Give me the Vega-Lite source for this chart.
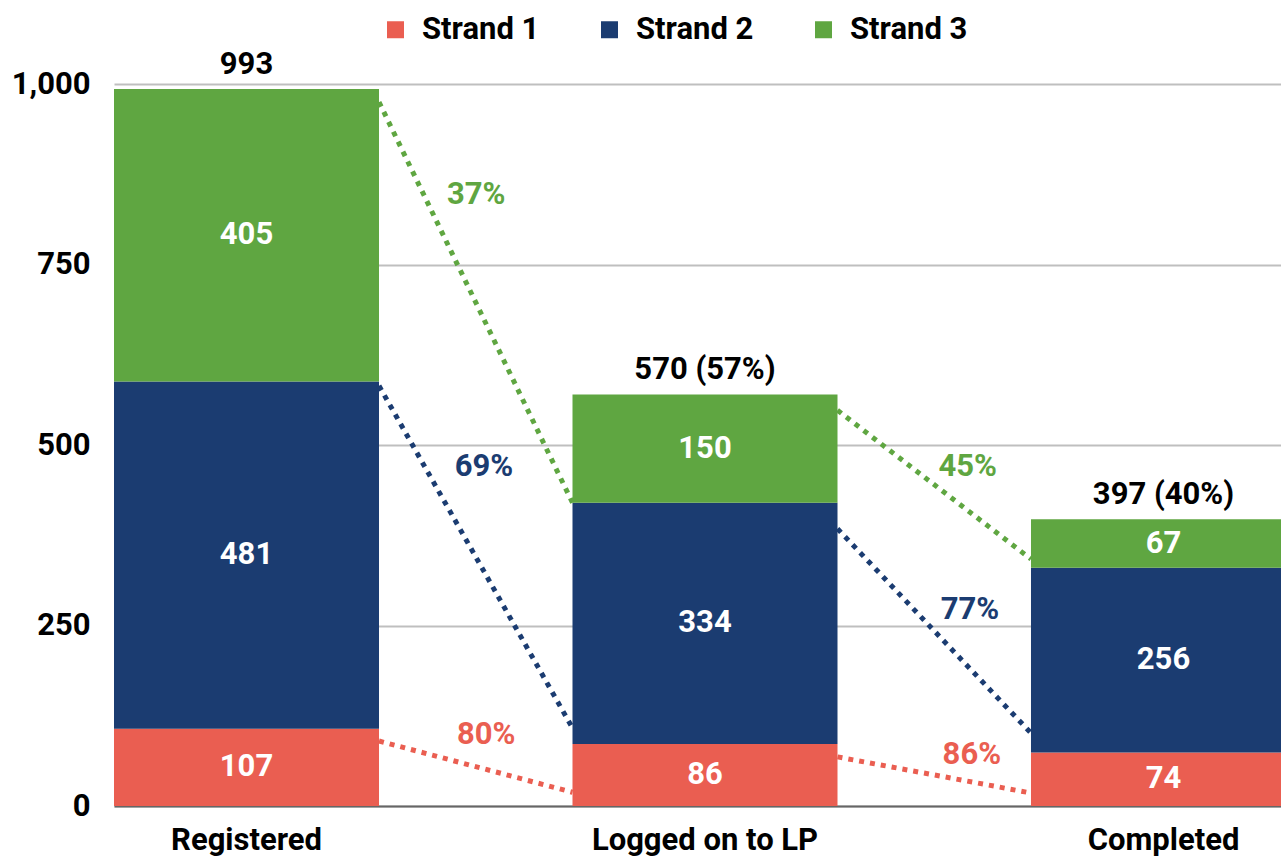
{
  "$schema": "https://vega.github.io/schema/vega-lite/v6.json",
  "width": 1167,
  "height": 722,
  "autosize": {"type": "none"},
  "padding": {"left": 114, "top": 84, "right": 0, "bottom": 50},
  "background": "white",
  "config": {
    "font": "Roboto",
    "view": {"stroke": null},
    "text": {"font": "Roboto", "fontWeight": "bold", "fontSize": 31},
    "axisY": {
      "labelExpr": "format(datum.value, ',d')",
      "ticks": false, "domain": false,
      "labelFont": "Roboto", "labelFontSize": 31, "labelFontWeight": "bold",
      "labelColor": "#000000", "labelPadding": 24,
      "grid": true, "gridColor": "#BFBFBF", "gridWidth": 2
    }
  },
  "datasets": {
    "bars": [
      {"stage": "Registered", "series": "Strand 1", "value": 107},
      {"stage": "Registered", "series": "Strand 2", "value": 481},
      {"stage": "Registered", "series": "Strand 3", "value": 405},
      {"stage": "Logged on to LP", "series": "Strand 1", "value": 86},
      {"stage": "Logged on to LP", "series": "Strand 2", "value": 334},
      {"stage": "Logged on to LP", "series": "Strand 3", "value": 150},
      {"stage": "Completed", "series": "Strand 1", "value": 74},
      {"stage": "Completed", "series": "Strand 2", "value": 256},
      {"stage": "Completed", "series": "Strand 3", "value": 67}
    ],
    "totals": [
      {"stage": "Registered", "total": 993, "label": "993"},
      {"stage": "Logged on to LP", "total": 570, "label": "570 (57%)"},
      {"stage": "Completed", "total": 397, "label": "397 (40%)"}
    ],
    "links": [
      {"seg": "a3", "series": "Strand 3", "pos": 0.578, "v": 975},
      {"seg": "a3", "series": "Strand 3", "pos": 1.0, "v": 420},
      {"seg": "a2", "series": "Strand 2", "pos": 0.578, "v": 582},
      {"seg": "a2", "series": "Strand 2", "pos": 1.0, "v": 108},
      {"seg": "a1", "series": "Strand 1", "pos": 0.578, "v": 90},
      {"seg": "a1", "series": "Strand 1", "pos": 1.0, "v": 19},
      {"seg": "b3", "series": "Strand 3", "pos": 1.578, "v": 548},
      {"seg": "b3", "series": "Strand 3", "pos": 2.0, "v": 342},
      {"seg": "b2", "series": "Strand 2", "pos": 1.578, "v": 384},
      {"seg": "b2", "series": "Strand 2", "pos": 2.0, "v": 101},
      {"seg": "b1", "series": "Strand 1", "pos": 1.578, "v": 68},
      {"seg": "b1", "series": "Strand 1", "pos": 2.0, "v": 18}
    ],
    "pct": [
      {"series": "Strand 3", "pos": 0.79, "v": 846, "label": "37%"},
      {"series": "Strand 2", "pos": 0.807, "v": 470, "label": "69%"},
      {"series": "Strand 1", "pos": 0.812, "v": 98, "label": "80%"},
      {"series": "Strand 3", "pos": 1.862, "v": 470, "label": "45%"},
      {"series": "Strand 2", "pos": 1.867, "v": 271, "label": "77%"},
      {"series": "Strand 1", "pos": 1.871, "v": 71, "label": "86%"}
    ]
  },
  "resolve": {"scale": {"x": "independent"}},
  "layer": [
    {
      "data": {"name": "bars"},
      "mark": {"type": "bar", "clip": true},
      "encoding": {
        "x": {
          "field": "stage", "type": "nominal",
          "sort": ["Registered", "Logged on to LP", "Completed"],
          "scale": {"type": "band", "range": [0, 1182], "paddingInner": 0.422, "paddingOuter": 0},
          "axis": {
            "title": null, "labelAngle": 0, "ticks": false,
            "domainColor": "#666666", "domainWidth": 2,
            "labelFont": "Roboto", "labelFontSize": 31, "labelFontWeight": "bold",
            "labelColor": "#000000", "labelPadding": 19, "labelLimit": 500, "grid": false
          }
        },
        "y": {
          "field": "value", "type": "quantitative", "stack": "zero",
          "scale": {"domain": [0, 1000], "nice": false},
          "axis": {"title": null, "values": [0, 250, 500, 750, 1000]}
        },
        "color": {
          "field": "series", "type": "nominal",
          "scale": {"domain": ["Strand 1", "Strand 2", "Strand 3"], "range": ["#EA5E51", "#1B3C71", "#5FA641"]},
          "legend": {
            "title": null, "orient": "none", "direction": "horizontal",
            "legendX": 266, "legendY": -70,
            "symbolType": "square", "symbolSize": 289, "symbolStrokeWidth": 0,
            "labelFont": "Roboto", "labelFontSize": 31, "labelFontWeight": "bold",
            "labelColor": "#000000", "labelOffset": 11, "columnPadding": 54, "labelLimit": 0
          }
        },
        "order": {"field": "series", "sort": "ascending"}
      }
    },
    {
      "data": {"name": "bars"},
      "transform": [
        {"stack": "value", "groupby": ["stage"], "sort": [{"field": "series", "order": "ascending"}], "as": ["v0", "v1"]},
        {"calculate": "(datum.v0 + datum.v1) / 2", "as": "mid"}
      ],
      "mark": {"type": "text", "color": "white", "baseline": "middle"},
      "encoding": {
        "x": {
          "field": "stage", "type": "nominal",
          "sort": ["Registered", "Logged on to LP", "Completed"],
          "scale": {"type": "band", "range": [0, 1182], "paddingInner": 0.422, "paddingOuter": 0},
          "axis": null
        },
        "y": {"field": "mid", "type": "quantitative", "axis": {"title": null, "values": [0, 250, 500, 750, 1000]}},
        "text": {"field": "value", "type": "quantitative"}
      }
    },
    {
      "data": {"name": "totals"},
      "mark": {"type": "text", "color": "black", "baseline": "middle", "dy": -24},
      "encoding": {
        "x": {
          "field": "stage", "type": "nominal",
          "sort": ["Registered", "Logged on to LP", "Completed"],
          "scale": {"type": "band", "range": [0, 1182], "paddingInner": 0.422, "paddingOuter": 0},
          "axis": null
        },
        "y": {"field": "total", "type": "quantitative", "axis": {"title": null, "values": [0, 250, 500, 750, 1000]}},
        "text": {"field": "label", "type": "nominal"}
      }
    },
    {
      "data": {"name": "links"},
      "mark": {"type": "line", "strokeWidth": 5, "strokeDash": [5, 6], "strokeCap": "butt"},
      "encoding": {
        "x": {"field": "pos", "type": "quantitative", "scale": {"domain": [0, 2.578], "range": [0, 1182], "nice": false, "zero": false}, "axis": null},
        "y": {"field": "v", "type": "quantitative", "axis": {"title": null, "values": [0, 250, 500, 750, 1000]}},
        "detail": {"field": "seg", "type": "nominal"},
        "color": {"field": "series", "type": "nominal"}
      }
    },
    {
      "data": {"name": "pct"},
      "mark": {"type": "text", "baseline": "middle"},
      "encoding": {
        "x": {"field": "pos", "type": "quantitative", "scale": {"domain": [0, 2.578], "range": [0, 1182], "nice": false, "zero": false}, "axis": null},
        "y": {"field": "v", "type": "quantitative", "axis": {"title": null, "values": [0, 250, 500, 750, 1000]}},
        "color": {"field": "series", "type": "nominal"},
        "text": {"field": "label", "type": "nominal"}
      }
    }
  ]
}
